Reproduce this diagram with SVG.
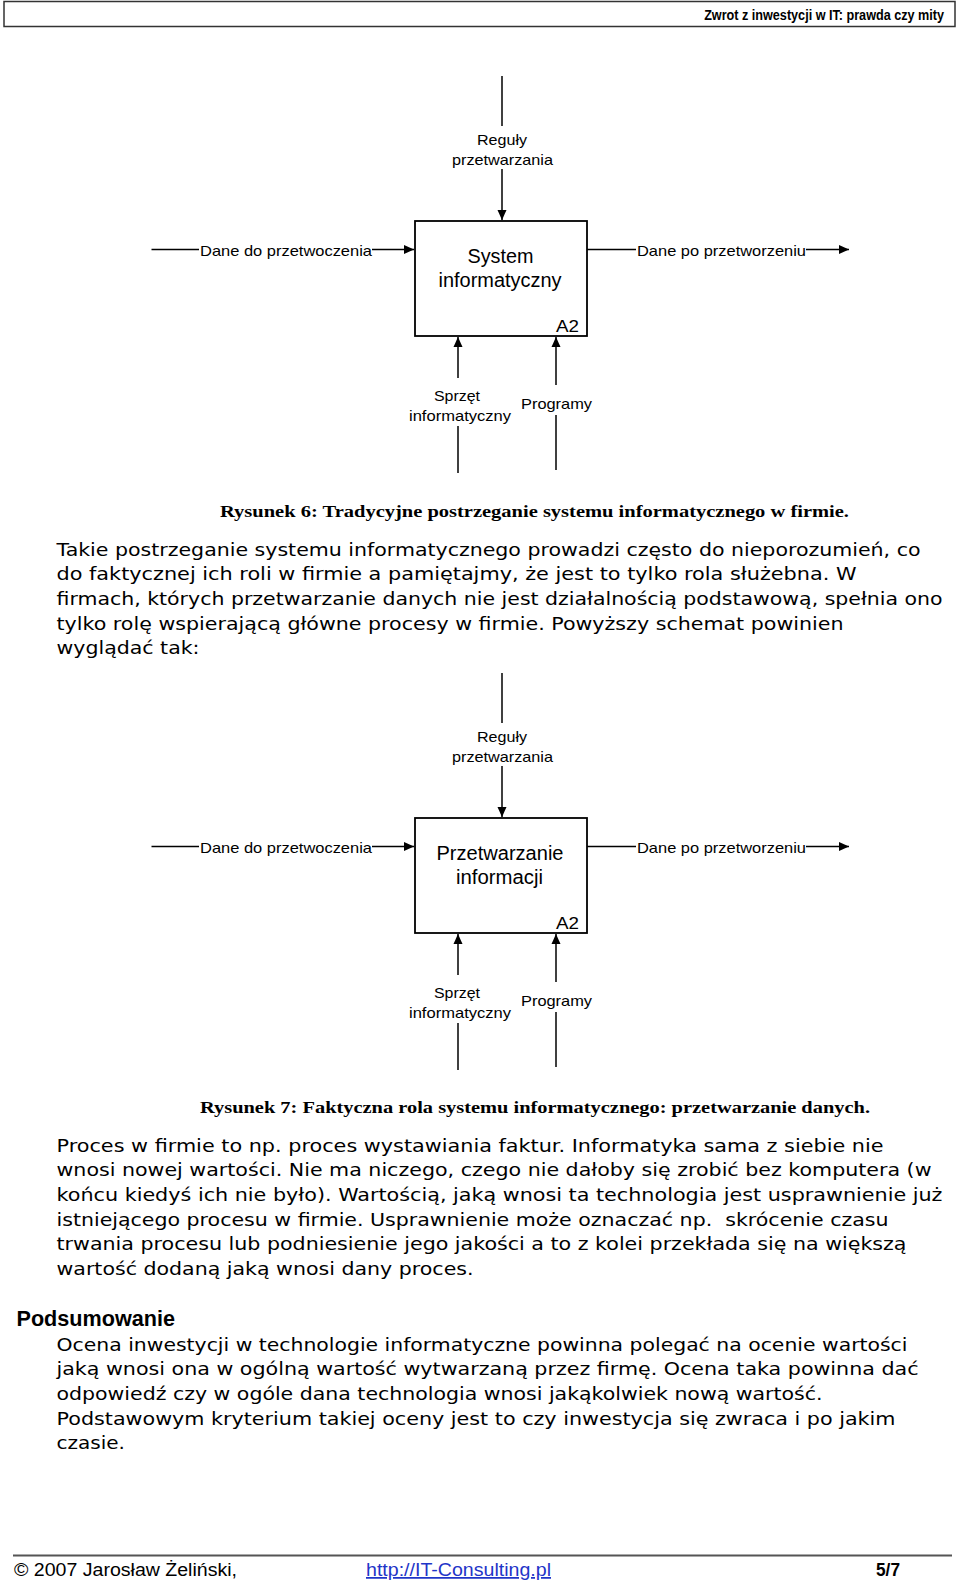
<svg xmlns="http://www.w3.org/2000/svg" width="960" height="1582" viewBox="0 0 960 1582">
<defs>
<marker id="arr" viewBox="0 0 10 10" refX="10" refY="5" markerWidth="10" markerHeight="10" markerUnits="userSpaceOnUse" orient="auto">
<path d="M0,0.5 L10,5 L0,9.5 z" fill="#000"/>
</marker>
<style>
.ln{stroke:#000;stroke-width:1.5;fill:none}
.box{fill:#fff;stroke:#000;stroke-width:1.8}
.lbl{font-family:"Liberation Sans",Arial,sans-serif;font-size:14.5px;fill:#000}
.nt{font-family:"Liberation Sans",Arial,sans-serif;font-size:19.5px;fill:#000}
.id{font-family:"Liberation Sans",Arial,sans-serif;font-size:17px;fill:#000}
.cap{font-family:"Liberation Serif","Times New Roman",serif;font-weight:bold;font-size:17.5px;fill:#000}
.body{font-family:"DejaVu Sans",Verdana,sans-serif;font-size:18px;fill:#000}
.hd{font-family:"Liberation Sans",Arial,sans-serif;font-weight:bold;font-size:14.5px;fill:#000}
.ft{font-family:"Liberation Sans",Arial,sans-serif;font-size:17.5px;fill:#000}
</style>
</defs>
<rect width="960" height="1582" fill="#fff"/>

<g id="header">
<rect x="4" y="1.5" width="951" height="25" fill="none" stroke="#333" stroke-width="1.5"/>
<text class="hd" transform="translate(944,20) scale(0.866,1)" x="0" y="0" text-anchor="end" textLength="277" lengthAdjust="spacingAndGlyphs">Zwrot z inwestycji w IT: prawda czy mity</text>
</g>

<!-- Diagram 1 -->
<g id="diagram1">
<g id="d1-connectors">
<line class="ln" x1="502" y1="76" x2="502" y2="126"/>
<line class="ln" x1="502" y1="169" x2="502" y2="220" marker-end="url(#arr)"/>
<line class="ln" x1="151.5" y1="249.5" x2="199" y2="249.5"/>
<line class="ln" x1="372" y1="249.5" x2="414" y2="249.5" marker-end="url(#arr)"/>
<line class="ln" x1="587" y1="249.5" x2="636" y2="249.5"/>
<line class="ln" x1="806" y1="249.5" x2="849" y2="249.5" marker-end="url(#arr)"/>
<line class="ln" x1="458" y1="378" x2="458" y2="337" marker-end="url(#arr)"/>
<line class="ln" x1="458" y1="426" x2="458" y2="473"/>
<line class="ln" x1="556" y1="385" x2="556" y2="337" marker-end="url(#arr)"/>
<line class="ln" x1="556" y1="415" x2="556" y2="470"/>
</g>
<g id="d1-labels">
<text class="lbl" x="477" y="145" textLength="50" lengthAdjust="spacingAndGlyphs">Reguły</text>
<text class="lbl" x="452" y="164.5" textLength="101" lengthAdjust="spacingAndGlyphs">przetwarzania</text>
<text class="lbl" x="200" y="256" textLength="172" lengthAdjust="spacingAndGlyphs">Dane do przetwoczenia</text>
<text class="lbl" x="637" y="256" textLength="169" lengthAdjust="spacingAndGlyphs">Dane po przetworzeniu</text>
<text class="lbl" x="434" y="401" textLength="46" lengthAdjust="spacingAndGlyphs">Sprzęt</text>
<text class="lbl" x="409" y="420.5" textLength="102" lengthAdjust="spacingAndGlyphs">informatyczny</text>
<text class="lbl" x="521" y="408.5" textLength="71" lengthAdjust="spacingAndGlyphs">Programy</text>
</g>
<g id="d1-box">
<rect class="box" x="415" y="221" width="172" height="115"/>
<text class="nt" x="467.5" y="263.3" textLength="66" lengthAdjust="spacingAndGlyphs">System</text>
<text class="nt" x="438.5" y="287.3" textLength="123" lengthAdjust="spacingAndGlyphs">informatyczny</text>
<text class="id" x="556" y="332" textLength="23" lengthAdjust="spacingAndGlyphs">A2</text>
</g>
</g>

<text class="cap" x="220" y="516.5" textLength="629" lengthAdjust="spacingAndGlyphs">Rysunek 6: Tradycyjne postrzeganie systemu informatycznego w firmie.</text>

<g id="para1">
<text class="body" x="56.5" y="555.5" textLength="864" lengthAdjust="spacingAndGlyphs">Takie postrzeganie systemu informatycznego prowadzi często do nieporozumień, co</text>
<text class="body" x="56.5" y="580.2" textLength="800" lengthAdjust="spacingAndGlyphs">do faktycznej ich roli w firmie a pamiętajmy, że jest to tylko rola służebna. W</text>
<text class="body" x="56.5" y="604.9" textLength="886" lengthAdjust="spacingAndGlyphs">firmach, których przetwarzanie danych nie jest działalnością podstawową, spełnia ono</text>
<text class="body" x="56.5" y="629.6" textLength="787" lengthAdjust="spacingAndGlyphs">tylko rolę wspierającą główne procesy w firmie. Powyższy schemat powinien</text>
<text class="body" x="56.5" y="654.3" textLength="143" lengthAdjust="spacingAndGlyphs">wyglądać tak:</text>
</g>

<!-- Diagram 2 -->
<g id="diagram2" transform="translate(0,597)">
<g id="d2-connectors">
<line class="ln" x1="502" y1="76" x2="502" y2="126"/>
<line class="ln" x1="502" y1="169" x2="502" y2="220" marker-end="url(#arr)"/>
<line class="ln" x1="151.5" y1="249.5" x2="199" y2="249.5"/>
<line class="ln" x1="372" y1="249.5" x2="414" y2="249.5" marker-end="url(#arr)"/>
<line class="ln" x1="587" y1="249.5" x2="636" y2="249.5"/>
<line class="ln" x1="806" y1="249.5" x2="849" y2="249.5" marker-end="url(#arr)"/>
<line class="ln" x1="458" y1="378" x2="458" y2="337" marker-end="url(#arr)"/>
<line class="ln" x1="458" y1="426" x2="458" y2="473"/>
<line class="ln" x1="556" y1="385" x2="556" y2="337" marker-end="url(#arr)"/>
<line class="ln" x1="556" y1="415" x2="556" y2="470"/>
</g>
<g id="d2-labels">
<text class="lbl" x="477" y="145" textLength="50" lengthAdjust="spacingAndGlyphs">Reguły</text>
<text class="lbl" x="452" y="164.5" textLength="101" lengthAdjust="spacingAndGlyphs">przetwarzania</text>
<text class="lbl" x="200" y="256" textLength="172" lengthAdjust="spacingAndGlyphs">Dane do przetwoczenia</text>
<text class="lbl" x="637" y="256" textLength="169" lengthAdjust="spacingAndGlyphs">Dane po przetworzeniu</text>
<text class="lbl" x="434" y="401" textLength="46" lengthAdjust="spacingAndGlyphs">Sprzęt</text>
<text class="lbl" x="409" y="420.5" textLength="102" lengthAdjust="spacingAndGlyphs">informatyczny</text>
<text class="lbl" x="521" y="408.5" textLength="71" lengthAdjust="spacingAndGlyphs">Programy</text>
</g>
<g id="d2-box">
<rect class="box" x="415" y="221" width="172" height="115"/>
<text class="nt" x="436.5" y="263.3" textLength="127" lengthAdjust="spacingAndGlyphs">Przetwarzanie</text>
<text class="nt" x="456" y="287.3" textLength="87" lengthAdjust="spacingAndGlyphs">informacji</text>
<text class="id" x="556" y="332" textLength="23" lengthAdjust="spacingAndGlyphs">A2</text>
</g>
</g>

<text class="cap" x="200" y="1113" textLength="670" lengthAdjust="spacingAndGlyphs">Rysunek 7: Faktyczna rola systemu informatycznego: przetwarzanie danych.</text>

<g id="para2">
<text class="body" x="56.5" y="1151.5" textLength="827" lengthAdjust="spacingAndGlyphs">Proces w firmie to np. proces wystawiania faktur. Informatyka sama z siebie nie</text>
<text class="body" x="56.5" y="1176.2" textLength="875" lengthAdjust="spacingAndGlyphs">wnosi nowej wartości. Nie ma niczego, czego nie dałoby się zrobić bez komputera (w</text>
<text class="body" x="56.5" y="1200.9" textLength="886" lengthAdjust="spacingAndGlyphs">końcu kiedyś ich nie było). Wartością, jaką wnosi ta technologia jest usprawnienie już</text>
<text class="body" x="56.5" y="1225.6" textLength="832" lengthAdjust="spacingAndGlyphs" xml:space="preserve">istniejącego procesu w firmie. Usprawnienie może oznaczać np.  skrócenie czasu</text>
<text class="body" x="56.5" y="1250.3" textLength="850" lengthAdjust="spacingAndGlyphs">trwania procesu lub podniesienie jego jakości a to z kolei przekłada się na większą</text>
<text class="body" x="56.5" y="1275" textLength="417" lengthAdjust="spacingAndGlyphs">wartość dodaną jaką wnosi dany proces.</text>
</g>

<g id="summary">
<text x="16.5" y="1326" font-family="'Liberation Sans',Arial,sans-serif" font-weight="bold" font-size="21.5" textLength="158.5" lengthAdjust="spacingAndGlyphs">Podsumowanie</text>
<text class="body" x="56.5" y="1350.5" textLength="851" lengthAdjust="spacingAndGlyphs">Ocena inwestycji w technologie informatyczne powinna polegać na ocenie wartości</text>
<text class="body" x="56.5" y="1375.2" textLength="862" lengthAdjust="spacingAndGlyphs">jaką wnosi ona w ogólną wartość wytwarzaną przez firmę. Ocena taka powinna dać</text>
<text class="body" x="56.5" y="1399.9" textLength="766" lengthAdjust="spacingAndGlyphs">odpowiedź czy w ogóle dana technologia wnosi jakąkolwiek nową wartość.</text>
<text class="body" x="56.5" y="1424.6" textLength="839" lengthAdjust="spacingAndGlyphs">Podstawowym kryterium takiej oceny jest to czy inwestycja się zwraca i po jakim</text>
<text class="body" x="56.5" y="1449.3" textLength="68.5" lengthAdjust="spacingAndGlyphs">czasie.</text>
</g>

<g id="footer">
<line x1="13" y1="1555.5" x2="952" y2="1555.5" stroke="#555" stroke-width="2"/>
<text class="ft" x="14" y="1576" textLength="223" lengthAdjust="spacingAndGlyphs">© 2007 Jarosław Żeliński,</text>
<text class="ft" x="366" y="1576" textLength="185" lengthAdjust="spacingAndGlyphs" fill="#1f35c8" style="fill:#1f35c8" text-decoration="underline">http://IT-Consulting.pl</text>
<text class="ft" x="876" y="1576" font-weight="bold" textLength="24" lengthAdjust="spacingAndGlyphs">5/7</text>
</g>
</svg>
